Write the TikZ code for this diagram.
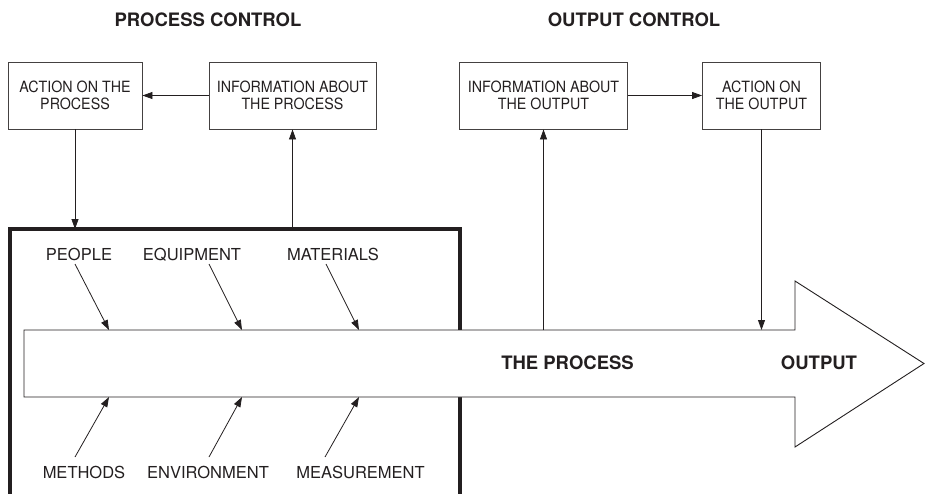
\documentclass[tikz,border=0pt]{standalone}
\usepackage{fontspec}
\setmainfont{TeX Gyre Heros}
\newfontfamily\boxfont[FakeStretch=0.92]{TeX Gyre Heros}
\usetikzlibrary{arrows.meta}
\definecolor{ink}{HTML}{231F20}
\tikzset{
  ctrlbox/.style={draw=ink!85, line width=0.9pt, fill=white, align=center, inner sep=0pt,
    font=\boxfont\fontsize{15.5}{17.5}\selectfont, text=ink},
  factor/.style={font=\fontsize{16.5}{18}\selectfont, text=ink, anchor=base, inner sep=0pt},
  heading/.style={font=\fontsize{18.5}{20}\selectfont\bfseries, text=ink, anchor=base, inner sep=0pt},
  conn/.style={draw=ink, line width=0.8pt, -{Triangle[length=10pt,width=7pt]}},
}
\begin{document}
\begin{tikzpicture}[x=1pt,y=-1pt]
\useasboundingbox (0,0) rectangle (925,493);
% thick frame (open at bottom)
\draw[ink, line width=4pt] (10,500) -- (10,229) -- (460,229) -- (460,500);
% process arrow
\draw[draw=ink, line width=0.9pt, fill=white]
  (24,330) -- (795,330) -- (795,281) -- (924,363.5) -- (795,447) -- (795,397) -- (24,397) -- cycle;
% headings
\node[heading] (pc) at (208,26.7) {PROCESS CONTROL};
\node[heading] (oc) at (634,26.7) {OUTPUT CONTROL};
% boxes
\node[ctrlbox, minimum width=134pt, minimum height=67pt] (ap) at (75,95.5) {ACTION ON THE\\PROCESS};
\node[ctrlbox, minimum width=167pt, minimum height=67pt] (ip) at (292.5,95.5) {INFORMATION ABOUT\\THE PROCESS};
\node[ctrlbox, minimum width=168pt, minimum height=67pt] (io) at (543.5,95.5) {INFORMATION ABOUT\\THE OUTPUT};
\node[ctrlbox, minimum width=118pt, minimum height=67pt] (ao) at (761.5,95.5) {ACTION ON\\THE OUTPUT};
% frame / arrow contact points
\coordinate (apIn) at (75,229);
\coordinate (ipOut) at (292.5,229);
\coordinate (ioOut) at (543.5,330);
\coordinate (aoIn) at (761.5,330);
% control loops
\draw[conn] (ip.west) -- (ap.east);
\draw[conn] (io.east) -- (ao.west);
\draw[conn] (ap.south) -- (apIn);
\draw[conn] (ipOut) -- (ip.south);
\draw[conn] (ioOut) -- (io.south);
\draw[conn] (ao.south) -- (aoIn);
% factor labels
\node[factor] (people) at (79,260.7) {PEOPLE};
\node[factor] (equip) at (192,260.7) {EQUIPMENT};
\node[factor] (mater) at (333,260.7) {MATERIALS};
\node[factor] (meth) at (84,478) {METHODS};
\node[factor] (envi) at (208,478) {ENVIRONMENT};
\node[factor] (meas) at (360.5,478) {MEASUREMENT};
% factor arrows
\coordinate (peopleS) at (75,264);
\coordinate (equipS) at (209,264);
\coordinate (materS) at (326,264);
\coordinate (methS) at (75,457);
\coordinate (enviS) at (209,457);
\coordinate (measS) at (325,457);
\coordinate (peopleE) at (109,330);
\coordinate (equipE) at (242,330);
\coordinate (materE) at (359,330);
\coordinate (methE) at (109,397);
\coordinate (enviE) at (242,397);
\coordinate (measE) at (359,397);
\draw[conn] (peopleS) -- (peopleE);
\draw[conn] (equipS) -- (equipE);
\draw[conn] (materS) -- (materE);
\draw[conn] (methS) -- (methE);
\draw[conn] (enviS) -- (enviE);
\draw[conn] (measS) -- (measE);
% process labels
\node[heading] (proc) at (567.5,369.3) {THE PROCESS};
\node[heading] (outp) at (819,369.3) {OUTPUT};
\end{tikzpicture}
\end{document}
